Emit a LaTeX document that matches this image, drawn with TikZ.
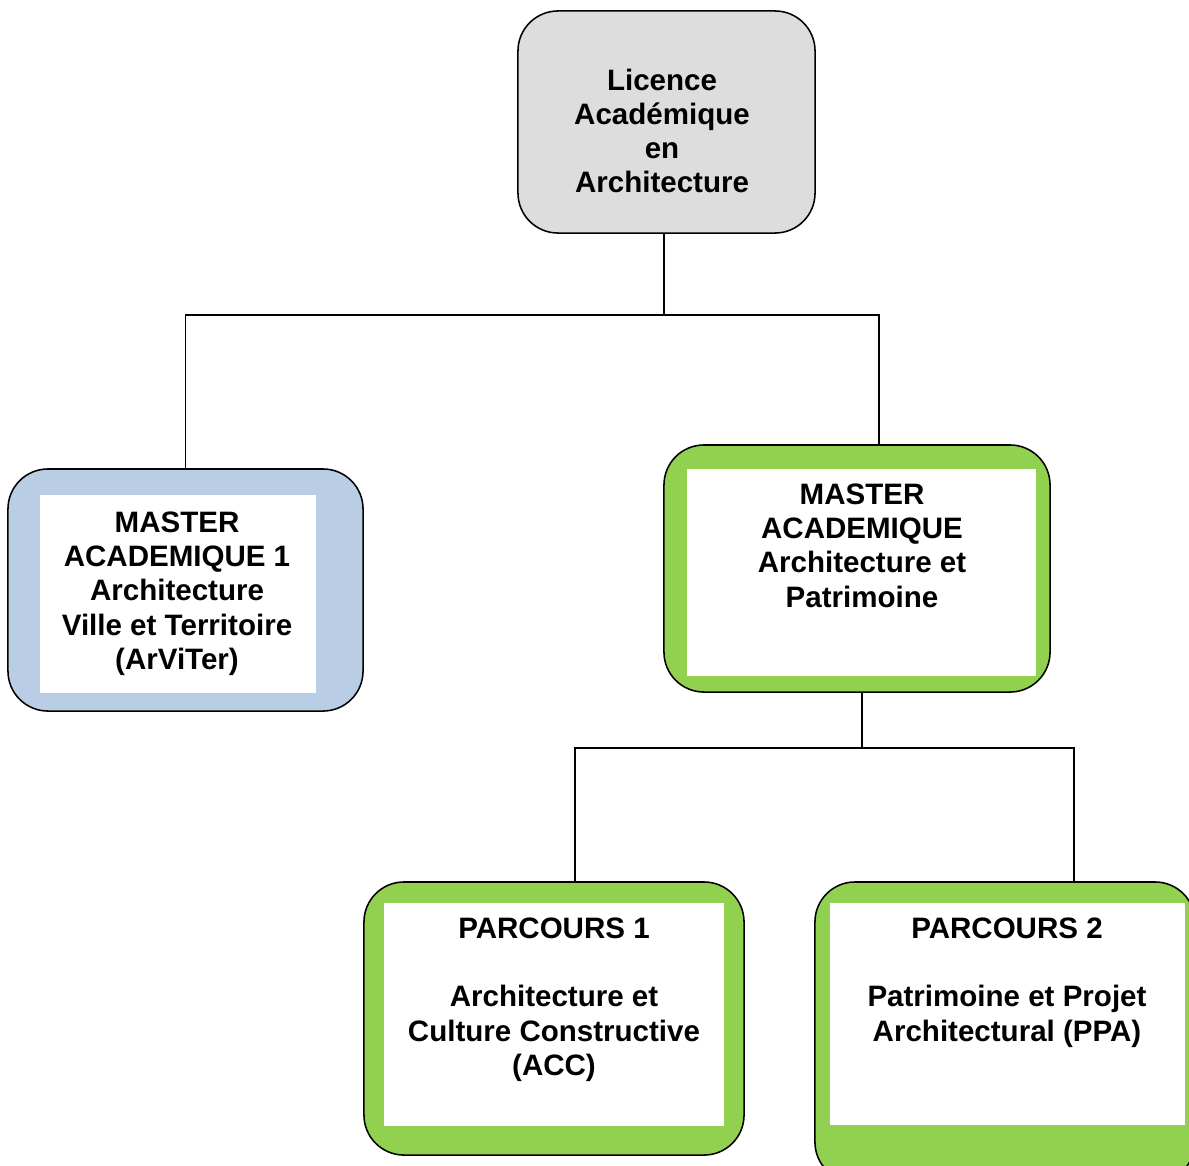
\documentclass[tikz,border=0pt]{standalone}
\usepackage{fontspec}
\setmainfont{Liberation Sans}
\usetikzlibrary{positioning}
\definecolor{LicGrau}{RGB}{221,221,221}
\definecolor{MasterBlau}{RGB}{185,205,229}
\definecolor{MasterGruen}{RGB}{146,208,80}

\begin{document}
\begin{tikzpicture}[x=0.025cm, y=-0.025cm,
    box/.style={draw=black, line width=1.1pt, rounded corners=1cm, inner sep=0pt},
    panel/.style={fill=white, inner sep=0pt},
    boxtext/.style={align=center, anchor=north, inner sep=0pt, font=\fontsize{21}{24.2}\selectfont\bfseries},
    link/.style={line width=1.1pt}]
    \useasboundingbox (0,0) rectangle (1189,1165);
    \clip (0,0) rectangle (1189,1165);

    % Licence
    \node[box, fill=LicGrau, minimum width=7.425cm, minimum height=5.55cm] (lic) at (666.5,122) {};
    \node[boxtext] (lic-txt) at (662,69) {Licence\\Académique\\en\\Architecture};

    % Masters
    \node[box, fill=MasterBlau, minimum width=8.875cm, minimum height=6.05cm] (arv) at (185.5,590) {};
    \node[panel, minimum width=6.9cm, minimum height=4.95cm] (arv-in) at (178,594) {};
    \node[boxtext] (arv-txt) at (177,512) {MASTER\\ACADEMIQUE 1\\Architecture\\Ville et Territoire\\(ArViTer)};

    \node[box, fill=MasterGruen, minimum width=9.65cm, minimum height=6.175cm] (ap) at (857,568.5) {};
    \node[panel, minimum width=8.725cm, minimum height=5.175cm] (ap-in) at (861.5,572.5) {};
    \node[boxtext] (ap-txt) at (862,484) {MASTER\\ACADEMIQUE\\Architecture et\\Patrimoine};

    % Parcours
    \node[box, fill=MasterGruen, minimum width=9.5cm, minimum height=6.825cm] (p1) at (554,1018.5) {};
    \node[panel, minimum width=8.5cm, minimum height=5.575cm] (p1-in) at (554,1014.5) {};
    \node[boxtext] (p1-txt) at (554,918) {PARCOURS 1\\[24.2pt]Architecture et\\Culture Constructive\\(ACC)};

    \node[box, fill=MasterGruen, minimum width=9.5cm, minimum height=7.5cm] (p2) at (1005,1032) {};
    \node[panel, minimum width=8.875cm, minimum height=5.55cm] (p2-in) at (1007.5,1014) {};
    \node[boxtext] (p2-txt) at (1007,918) {PARCOURS 2\\[24.2pt]Patrimoine et Projet\\Architectural (PPA)};

    % connectors
    \coordinate (bus1) at (0,315);
    \coordinate (bus2) at (0,748);
    \coordinate (lic-bot) at ([xshift=-0.0625cm]lic.south);
    \coordinate (ap-top) at ([xshift=0.55cm]ap.north);
    \coordinate (ap-bot) at ([xshift=0.125cm]ap.south);
    \coordinate (p1-top) at ([xshift=0.525cm]p1.north);
    \coordinate (p2-top) at ([xshift=1.725cm]p2.north);

    \draw[link] (lic-bot) -- (lic-bot |- bus1);
    \draw[link] (arv.north) |- (ap-top |- bus1) -- (ap-top);
    \draw[link] (ap-bot) -- (ap-bot |- bus2);
    \draw[link] (p1-top) |- (p2-top |- bus2) -- (p2-top);
\end{tikzpicture}
\end{document}
